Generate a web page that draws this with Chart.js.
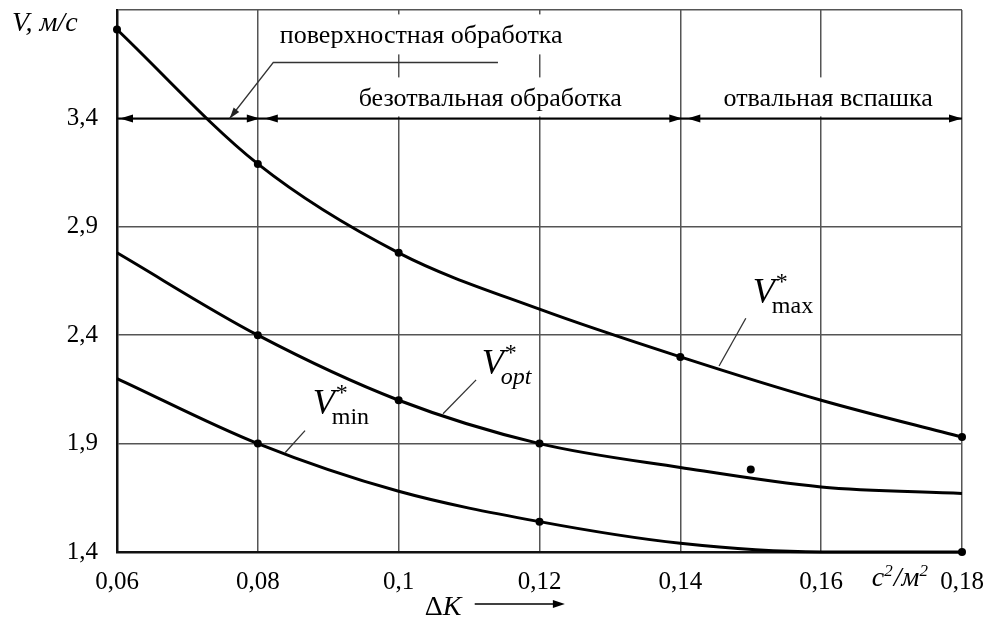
<!DOCTYPE html>
<html>
<head>
<meta charset="utf-8">
<script src="https://cdn.jsdelivr.net/npm/chart.js@4/dist/chart.umd.min.js"></script>
<style>
  html, body { margin: 0; padding: 0; background: #fff; }
  #wrap { width: 991px; height: 619px; }
</style>
</head>
<body>
<div id="wrap"><canvas id="c"></canvas></div>
<script>
// Specific hardness increment ΔK, c²/м²
const deltaK = [0.06, 0.08, 0.10, 0.12, 0.14, 0.16, 0.18];
// Working speeds, м/с
const vMax = [3.81, 3.19, 2.78, 2.52, 2.30, 2.10, 1.93];
const vOpt = [2.78, 2.40, 2.10, 1.90, 1.79, 1.70, 1.67];
const vMin = [2.20, 1.90, 1.68, 1.54, 1.44, 1.40, 1.40];
// Which nodes carry a measured point marker (1 = marked)
const vMaxMarked = [1, 1, 1, 0, 1, 0, 1];
const vOptMarked = [0, 1, 1, 1, 0, 0, 0];
const vMinMarked = [0, 1, 0, 1, 0, 0, 1];
// Separate experimental point
const extraK = [0.15];
const extraV = [1.78];

const xTicks = [0.06, 0.08, 0.10, 0.12, 0.14, 0.16, 0.18];
const xTickLabels = ['0,06', '0,08', '0,1', '0,12', '0,14', '0,16', '0,18'];
const yTicks = [1.4, 1.9, 2.4, 2.9, 3.4, 3.9];
const yTickLabels = ['1,4', '1,9', '2,4', '2,9', '3,4', ''];

// Tillage zones along ΔK
const zoneBounds = [0.06, 0.08, 0.14, 0.18];
const zoneNames = ['поверхностная обработка', 'безотвальная обработка', 'отвальная вспашка'];
const zoneLevel = 3.4;

const SERIF = "'Liberation Serif', 'Times New Roman', serif";

function series(values) {
  return deltaK.map((k, i) => ({ x: k, y: values[i] }));
}
function markRadius(marks) {
  return ctx => (marks[ctx.dataIndex] ? 4 : 0);
}
// keep the plot frame exactly where the layout puts it
function noScalePadding(s) {
  s.paddingTop = 0; s.paddingBottom = 0; s.paddingLeft = 0; s.paddingRight = 0;
}

const curveStyle = {
  borderColor: '#000',
  backgroundColor: '#000',
  pointBackgroundColor: '#000',
  pointBorderWidth: 0,
  borderWidth: 3,
  cubicInterpolationMode: 'monotone',
  fill: false,
  clip: false
};

function arrowHead(ctx, x, y, angle, len, half) {
  ctx.save();
  ctx.translate(x, y);
  ctx.rotate(angle);
  ctx.beginPath();
  ctx.moveTo(0, 0);
  ctx.lineTo(-len, -half);
  ctx.lineTo(-len, half);
  ctx.closePath();
  ctx.fill();
  ctx.restore();
}

function drawVLabel(ctx, x, y, sub, subItalic) {
  ctx.fillStyle = '#000';
  ctx.textBaseline = 'alphabetic';
  ctx.textAlign = 'left';
  ctx.font = 'italic 36px ' + SERIF;
  ctx.fillText('V', x, y);
  const w = ctx.measureText('V').width;
  ctx.font = '24px ' + SERIF;
  ctx.fillText('*', x + w + 1, y - 14);
  ctx.font = (subItalic ? 'italic ' : '') + '24px ' + SERIF;
  ctx.fillText(sub, x + w - 3, y + 10);
}

const overlay = {
  id: 'overlay',
  beforeDatasetsDraw(chart) {
    const { ctx, chartArea: a } = chart;
    const sx = chart.scales.x, sy = chart.scales.y;
    const px = v => sx.getPixelForValue(v);
    const py = v => sy.getPixelForValue(v);
    const yLine = py(zoneLevel);

    ctx.save();
    ctx.font = '26px ' + SERIF;
    ctx.textBaseline = 'alphabetic';
    ctx.textAlign = 'center';

    // caption placement: centre (ΔK) and baseline offset from the zone line
    const captions = [
      { text: zoneNames[0], cx: px(0.1032), base: yLine - 75, top: yLine - 104, bottom: yLine - 64 },
      { text: zoneNames[1], cx: px(0.1130), base: yLine - 12, top: yLine - 41, bottom: yLine - 2 },
      { text: zoneNames[2], cx: px(0.1610), base: yLine - 12, top: yLine - 41, bottom: yLine - 2 }
    ];
    // white plates hide the grid behind the captions
    captions.forEach(c => {
      const w = ctx.measureText(c.text).width;
      ctx.fillStyle = '#fff';
      ctx.fillRect(c.cx - w / 2 - 8, c.top, w + 16, c.bottom - c.top);
    });
    ctx.fillStyle = '#000';
    captions.forEach(c => ctx.fillText(c.text, c.cx, c.base));

    // dimension line of the zones
    ctx.strokeStyle = '#000';
    ctx.lineWidth = 2;
    ctx.beginPath();
    ctx.moveTo(px(zoneBounds[0]), yLine);
    ctx.lineTo(px(zoneBounds[zoneBounds.length - 1]), yLine);
    ctx.stroke();
    ctx.fillStyle = '#000';
    for (let i = 0; i < zoneBounds.length - 1; i++) {
      const l = px(zoneBounds[i]) + (i === 0 ? 3 : 7);
      const r = px(zoneBounds[i + 1]) + (i === zoneBounds.length - 2 ? 0 : 2);
      arrowHead(ctx, l, yLine, Math.PI, 13, 4);
      arrowHead(ctx, r, yLine, 0, 13, 4);
    }

    // leader from the upper caption down to the first zone
    ctx.strokeStyle = '#333';
    ctx.lineWidth = 1.5;
    const lx0 = px(0.1141), lx1 = px(0.0822), ly = yLine - 56;
    const tipX = px(0.0760), tipY = yLine;
    ctx.beginPath();
    ctx.moveTo(lx0, ly);
    ctx.lineTo(lx1, ly);
    ctx.lineTo(tipX, tipY);
    ctx.stroke();
    ctx.fillStyle = '#222';
    arrowHead(ctx, tipX, tipY, Math.atan2(tipY - ly, tipX - lx1), 11, 3.5);

    // curve labels with their leaders
    const labels = [
      { k: 0.1503, v: 2.547, sub: 'max', it: false, l0: [0.1493, 2.478], l1: [0.1455, 2.258] },
      { k: 0.1118, v: 2.221, sub: 'opt', it: true, l0: [0.1110, 2.194], l1: [0.1063, 2.038] },
      { k: 0.0878, v: 2.038, sub: 'min', it: false, l0: [0.0867, 1.960], l1: [0.0839, 1.859] }
    ];
    labels.forEach(L => {
      ctx.strokeStyle = '#333';
      ctx.lineWidth = 1.3;
      ctx.beginPath();
      ctx.moveTo(px(L.l0[0]), py(L.l0[1]));
      ctx.lineTo(px(L.l1[0]), py(L.l1[1]));
      ctx.stroke();
      drawVLabel(ctx, px(L.k), py(L.v), L.sub, L.it);
    });

    // axis titles
    ctx.fillStyle = '#000';
    ctx.textAlign = 'left';
    ctx.font = 'italic 28px ' + SERIF;
    ctx.fillText('V, м/с', a.left - 105, a.top + 21);

    // unit of ΔK between the last two ticks
    let ux = px(0.1672);
    const uy = a.bottom + 34;
    const unitParts = [['c', 0], ['2', 1], ['/м', 0], ['2', 1]];
    unitParts.forEach(([t, sup]) => {
      ctx.font = 'italic ' + (sup ? 17 : 28) + 'px ' + SERIF;
      ctx.fillText(t, ux, uy - (sup ? 10 : 0));
      ux += ctx.measureText(t).width + (sup ? 1 : 0);
    });

    const dkX = px(0.1037), dkY = a.bottom + 63;
    ctx.font = '28px ' + SERIF;
    ctx.fillText('Δ', dkX, dkY);
    const dw = ctx.measureText('Δ').width;
    ctx.font = 'italic 28px ' + SERIF;
    ctx.fillText('K', dkX + dw, dkY);
    ctx.strokeStyle = '#000';
    ctx.lineWidth = 1.5;
    const ax0 = px(0.1108), ax1 = px(0.1236), ay = a.bottom + 52;
    ctx.beginPath();
    ctx.moveTo(ax0, ay);
    ctx.lineTo(ax1 - 4, ay);
    ctx.stroke();
    arrowHead(ctx, ax1, ay, 0, 12, 4);

    ctx.restore();
  }
};

new Chart(document.getElementById('c'), {
  type: 'line',
  data: {
    datasets: [
      Object.assign({ label: 'V*max', data: series(vMax), pointRadius: markRadius(vMaxMarked) }, curveStyle),
      Object.assign({ label: 'V*opt', data: series(vOpt), pointRadius: markRadius(vOptMarked) }, curveStyle),
      Object.assign({ label: 'V*min', data: series(vMin), pointRadius: markRadius(vMinMarked) }, curveStyle),
      Object.assign({}, curveStyle, {
        label: 'опыт',
        data: extraK.map((k, i) => ({ x: k, y: extraV[i] })),
        showLine: false,
        pointRadius: 4
      })
    ]
  },
  options: {
    responsive: true,
    maintainAspectRatio: false,
    animation: false,
    events: [],
    layout: { padding: { top: 10, right: 29, left: 0, bottom: 0 } },
    plugins: { legend: { display: false }, tooltip: { enabled: false } },
    scales: {
      x: {
        type: 'linear',
        min: 0.06,
        max: 0.18,
        afterBuildTicks: s => { s.ticks = xTicks.map(v => ({ value: v })); },
        afterFit: s => { s.height = 67; noScalePadding(s); },
        grid: { color: '#555', lineWidth: 1.5, drawTicks: false },
        border: { display: true, color: '#111', width: 2.5 },
        ticks: {
          padding: 15,
          color: '#000',
          maxRotation: 0,
          autoSkip: false,
          font: { family: SERIF, size: 25 },
          callback: v => xTickLabels[xTicks.findIndex(t => Math.abs(t - v) < 1e-9)]
        }
      },
      y: {
        type: 'linear',
        min: 1.4,
        max: 3.9,
        afterBuildTicks: s => { s.ticks = yTicks.map(v => ({ value: v })); },
        afterFit: s => { s.width = 117; noScalePadding(s); },
        grid: { color: '#555', lineWidth: 1.5, drawTicks: false },
        border: { display: true, color: '#111', width: 2.5 },
        ticks: {
          padding: 19,
          color: '#000',
          autoSkip: false,
          font: { family: SERIF, size: 25 },
          callback: v => yTickLabels[yTicks.findIndex(t => Math.abs(t - v) < 1e-9)]
        }
      }
    }
  },
  plugins: [overlay]
});
</script>
</body>
</html>
